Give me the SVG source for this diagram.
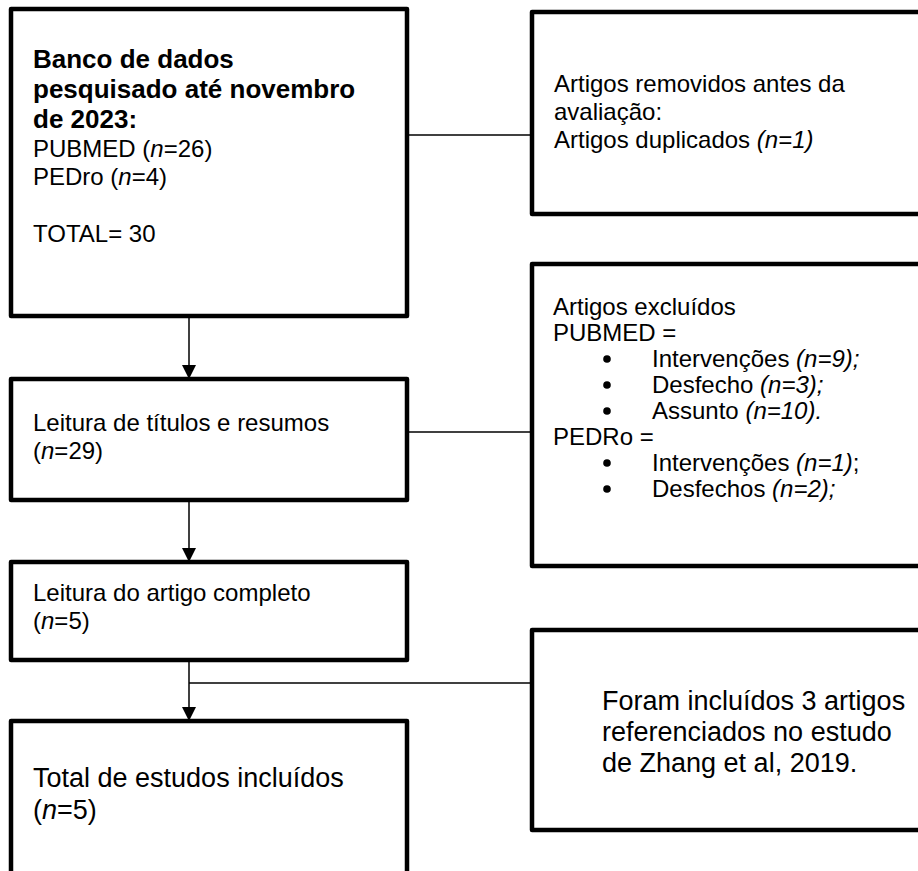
<svg xmlns="http://www.w3.org/2000/svg" width="918" height="871" viewBox="0 0 918 871">
<defs>
<style>
.box{fill:#fff;stroke:#000;stroke-width:4.5;stroke-linejoin:round}
.ln{fill:none;stroke:#000;stroke-width:1.5}
.ah{fill:#000}
text{font-family:"Liberation Sans",Arial,sans-serif;fill:#000}
.t{font-size:24px}
.b{font-size:26px;font-weight:bold}
.l{font-size:27px}
.i{font-style:italic}
</style>
</defs>
<g id="connectors">
<line class="ln" x1="407" y1="135" x2="532" y2="135"/>
<line class="ln" x1="189" y1="316" x2="189" y2="366"/>
<polygon class="ah" points="182,365 196,365 189,379"/>
<line class="ln" x1="407" y1="432" x2="532" y2="432"/>
<line class="ln" x1="189" y1="500" x2="189" y2="549"/>
<polygon class="ah" points="182,548 196,548 189,562"/>
<line class="ln" x1="189" y1="660" x2="189" y2="708"/>
<polygon class="ah" points="182,707 196,707 189,721"/>
<line class="ln" x1="189" y1="683" x2="532" y2="683"/>
</g>
<g id="n1">
<rect class="box" x="11" y="9" width="396" height="307"/>
<text class="b" x="33" y="68">Banco de dados</text>
<text class="b" x="33" y="98">pesquisado até novembro</text>
<text class="b" x="33" y="128">de 2023:</text>
<text class="t" x="33" y="157">PUBMED (<tspan class="i">n</tspan>=26)</text>
<text class="t" x="33" y="185">PEDro (<tspan class="i">n</tspan>=4)</text>
<text class="t" x="33" y="242">TOTAL= 30</text>
</g>
<g id="n2">
<rect class="box" x="532" y="12" width="395" height="202"/>
<text class="t" x="554" y="92">Artigos removidos antes da</text>
<text class="t" x="554" y="120">avaliação:</text>
<text class="t" x="554" y="148">Artigos duplicados <tspan class="i">(n=1)</tspan></text>
</g>
<g id="n3">
<rect class="box" x="11" y="379" width="396" height="121"/>
<text class="t" x="33" y="431">Leitura de títulos e resumos</text>
<text class="t" x="33" y="459">(<tspan class="i">n</tspan>=29)</text>
</g>
<g id="n4">
<rect class="box" x="532" y="264" width="395" height="302"/>
<text class="t" x="553" y="315">Artigos excluídos</text>
<text class="t" x="553" y="341">PUBMED =</text>
<circle cx="607" cy="359" r="3.8"/>
<text class="t" x="652" y="367">Intervenções <tspan class="i">(n=9);</tspan></text>
<circle cx="607" cy="385" r="3.8"/>
<text class="t" x="652" y="393">Desfecho <tspan class="i">(n=3);</tspan></text>
<circle cx="607" cy="411" r="3.8"/>
<text class="t" x="652" y="419">Assunto <tspan class="i">(n=10).</tspan></text>
<text class="t" x="553" y="445">PEDRo =</text>
<circle cx="607" cy="463" r="3.8"/>
<text class="t" x="652" y="471">Intervenções <tspan class="i">(n=1)</tspan>;</text>
<circle cx="607" cy="489" r="3.8"/>
<text class="t" x="652" y="497">Desfechos <tspan class="i">(n=2);</tspan></text>
</g>
<g id="n5">
<rect class="box" x="11" y="562" width="396" height="98"/>
<text class="t" x="33" y="601">Leitura do artigo completo</text>
<text class="t" x="33" y="629">(<tspan class="i">n</tspan>=5)</text>
</g>
<g id="n6">
<rect class="box" x="532" y="630" width="395" height="200"/>
<text class="l" x="602" y="710">Foram incluídos 3 artigos</text>
<text class="l" x="602" y="741">referenciados no estudo</text>
<text class="l" x="602" y="772">de Zhang et al, 2019.</text>
</g>
<g id="n7">
<rect class="box" x="11" y="721" width="396" height="170"/>
<text class="l" x="33" y="787">Total de estudos incluídos</text>
<text class="l" x="33" y="819">(<tspan class="i">n</tspan>=5)</text>
</g>
</svg>
